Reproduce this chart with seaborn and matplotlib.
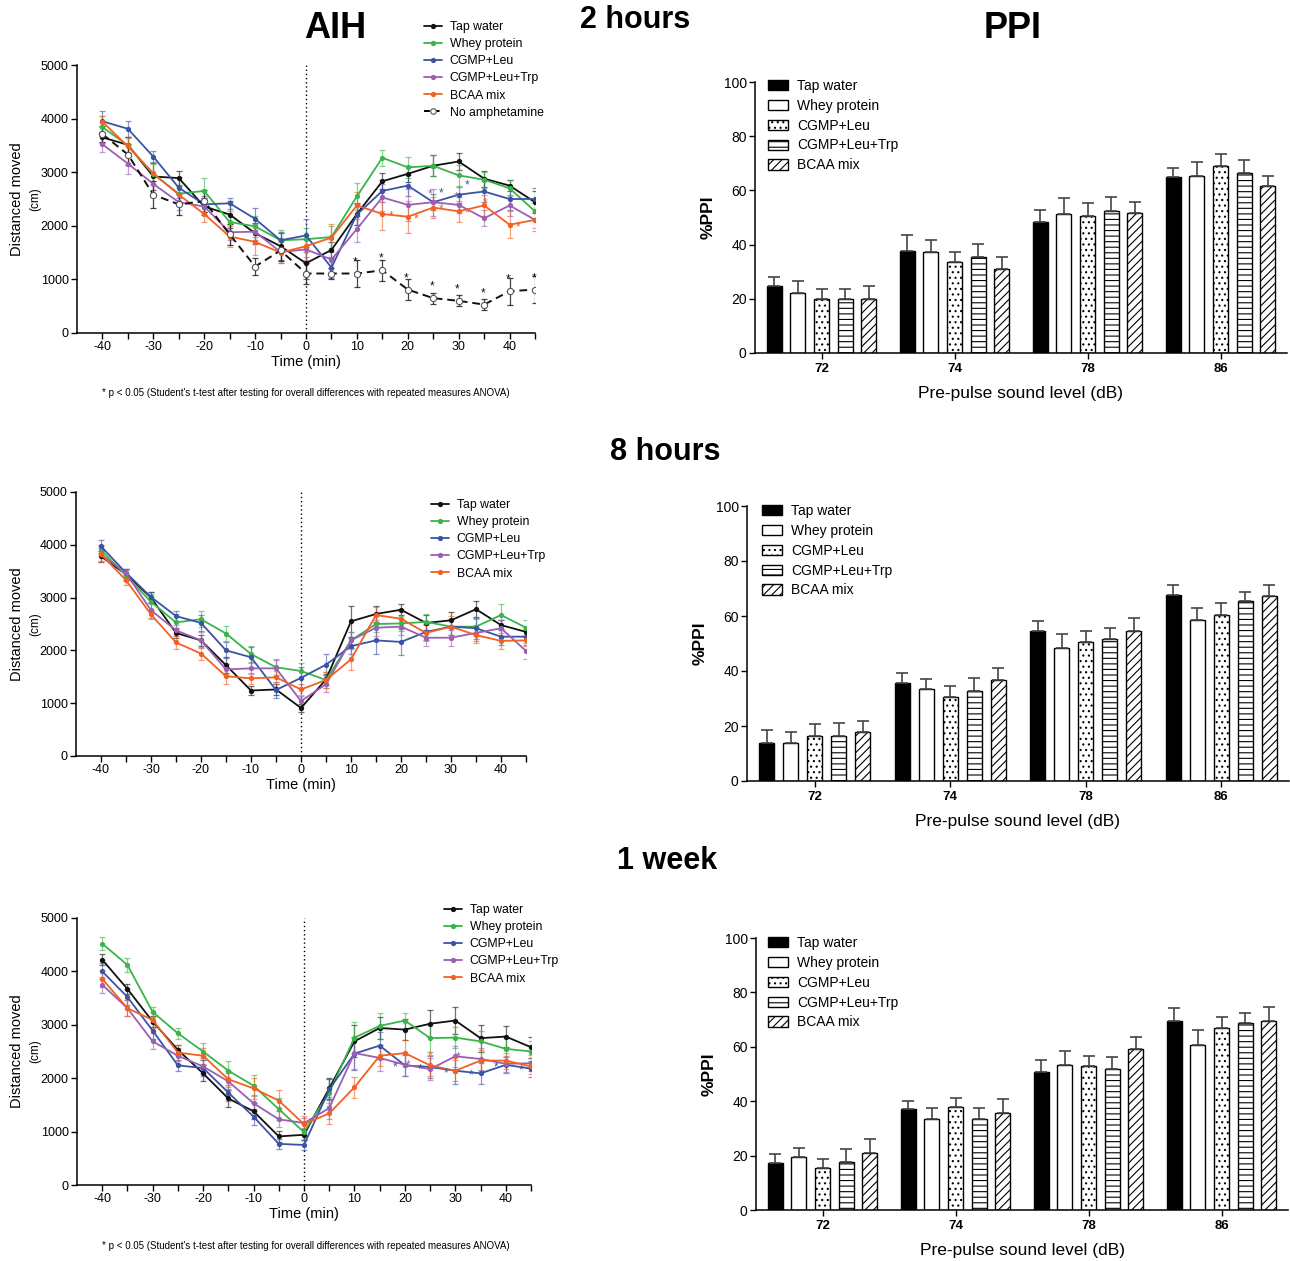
import numpy as np
import pandas as pd
import matplotlib
matplotlib.use("Agg")
import matplotlib.pyplot as plt
import matplotlib.patches as mpatches
from matplotlib.lines import Line2D
import seaborn as sns

sns.set_theme(style="ticks")
plt.rcParams['font.family'] = ['Liberation Sans', 'DejaVu Sans']
plt.rcParams['hatch.linewidth'] = 0.8
plt.rcParams['axes.linewidth'] = 1.1
for key in ['text.color', 'axes.labelcolor', 'xtick.color', 'ytick.color', 'axes.edgecolor']:
    plt.rcParams[key] = 'black'

# ---------------- data ----------------
TIMES = [-40, -35, -30, -25, -20, -15, -10, -5, 0, 5, 10, 15, 20, 25, 30, 35, 40, 45]
GROUPS = ["Tap water", "Whey protein", "CGMP+Leu", "CGMP+Leu+Trp", "BCAA mix"]
NOAMPH = "No amphetamine"

# 2 hours AIH (cm)
tap_2h = [3650, 3510, 2920, 2890, 2360, 2210, 1860, 1620, 1300, 1550, 2220, 2830, 2970, 3120, 3200, 2880, 2750, 2440]
whey_2h = [3840, 3500, 2960, 2600, 2650, 2070, 1990, 1730, 1750, 1790, 2550, 3270, 3090, 3120, 2940, 2860, 2700, 2270]
leu_2h = [3950, 3810, 3290, 2710, 2400, 2420, 2130, 1730, 1820, 1220, 2210, 2650, 2750, 2440, 2580, 2640, 2500, 2500]
trp_2h = [3520, 3160, 2780, 2440, 2360, 1880, 1890, 1510, 1560, 1370, 1940, 2530, 2390, 2440, 2390, 2140, 2380, 2110]
bcaa_2h = [3940, 3480, 2980, 2580, 2220, 1800, 1700, 1500, 1620, 1780, 2380, 2220, 2170, 2340, 2270, 2380, 2020, 2110]
noamph_2h = [3710, 3330, 2580, 2400, 2460, 1840, 1240, 1540, 1110, 1110, 1110, 1170, 810, 650, 600, 530, 780, 810]
err_tap_2h = [100, 150, 250, 130, 150, 250, 200, 250, 300, 150, 200, 150, 150, 200, 150, 150, 100, 200]
err_whey_2h = [200, 150, 200, 150, 250, 200, 200, 200, 200, 200, 250, 150, 200, 200, 200, 150, 150, 150]
err_leu_2h = [200, 150, 100, 200, 150, 100, 200, 150, 300, 200, 200, 200, 200, 150, 150, 200, 200, 200]
err_trp_2h = [150, 200, 200, 150, 150, 150, 150, 200, 200, 150, 250, 250, 300, 250, 150, 150, 200, 200]
err_bcaa_2h = [100, 150, 200, 150, 150, 200, 250, 200, 200, 250, 250, 300, 300, 200, 200, 200, 250, 150]
err_noamph_2h = [150, 200, 250, 200, 200, 200, 150, 200, 200, 100, 250, 200, 200, 100, 100, 100, 250, 250]

# 8 hours AIH (cm)
tap_8h = [3780, 3440, 3000, 2330, 2190, 1720, 1240, 1260, 910, 1450, 2550, 2690, 2770, 2520, 2570, 2780, 2480, 2350]
whey_8h = [3900, 3420, 2920, 2530, 2590, 2320, 1930, 1680, 1610, 1440, 2190, 2500, 2510, 2540, 2450, 2450, 2670, 2430]
leu_8h = [3970, 3470, 3010, 2650, 2520, 2000, 1870, 1250, 1480, 1730, 2080, 2190, 2160, 2350, 2450, 2420, 2260, 2260]
trp_8h = [3820, 3460, 2760, 2380, 2190, 1640, 1660, 1660, 1040, 1360, 2190, 2430, 2450, 2240, 2240, 2330, 2420, 1990]
bcaa_8h = [3820, 3330, 2680, 2150, 1940, 1510, 1470, 1490, 1260, 1440, 1830, 2670, 2600, 2330, 2450, 2290, 2180, 2190]
err_tap_8h = [100, 100, 100, 100, 100, 150, 80, 100, 80, 100, 300, 150, 100, 150, 150, 150, 100, 100]
err_whey_8h = [100, 100, 150, 150, 150, 150, 150, 150, 150, 150, 150, 150, 150, 150, 150, 150, 200, 150]
err_leu_8h = [120, 80, 100, 100, 150, 150, 200, 150, 200, 200, 150, 250, 250, 150, 150, 200, 150, 150]
err_trp_8h = [120, 80, 150, 100, 150, 100, 100, 150, 100, 150, 150, 150, 150, 150, 150, 150, 150, 150]
err_bcaa_8h = [150, 100, 80, 120, 120, 150, 100, 120, 100, 150, 200, 150, 150, 150, 200, 150, 150, 100]

# 1 week AIH (cm)
tap_1w = [4220, 3670, 3060, 2530, 2090, 1620, 1380, 910, 940, 1810, 2690, 2940, 2910, 3020, 3080, 2750, 2780, 2580]
whey_1w = [4520, 4120, 3240, 2840, 2500, 2140, 1860, 1420, 990, 1730, 2760, 2980, 3080, 2750, 2760, 2690, 2550, 2500]
leu_1w = [4000, 3520, 2890, 2240, 2190, 1730, 1280, 770, 750, 1790, 2460, 2610, 2240, 2210, 2140, 2090, 2250, 2180]
trp_1w = [3750, 3310, 2690, 2420, 2220, 1940, 1530, 1230, 1160, 1440, 2470, 2380, 2250, 2170, 2410, 2360, 2270, 2280]
bcaa_1w = [3860, 3310, 3090, 2480, 2420, 1980, 1810, 1580, 1140, 1340, 1830, 2420, 2470, 2240, 2140, 2330, 2330, 2220]
err_tap_1w = [100, 100, 100, 100, 150, 150, 150, 100, 100, 200, 300, 200, 200, 250, 250, 250, 200, 200]
err_whey_1w = [120, 130, 100, 100, 150, 180, 200, 200, 150, 250, 300, 250, 150, 250, 200, 200, 200, 200]
err_leu_1w = [150, 150, 150, 100, 150, 150, 150, 100, 100, 200, 300, 250, 200, 200, 250, 200, 150, 150]
err_trp_1w = [150, 150, 150, 150, 150, 150, 150, 150, 100, 200, 300, 250, 200, 200, 200, 200, 150, 150]
err_bcaa_1w = [150, 150, 150, 150, 150, 150, 200, 200, 150, 200, 200, 200, 250, 200, 200, 200, 150, 150]

# PPI (%)
LEVELS = ["72", "74", "78", "86"]
ppi_tap_2h = [24.8, 37.8, 48.3, 64.8]
ppi_whey_2h = [22.1, 37.2, 51.3, 65.3]
ppi_leu_2h = [19.9, 33.5, 50.6, 69.1]
ppi_trp_2h = [19.9, 35.3, 52.3, 66.6]
ppi_bcaa_2h = [20.1, 30.9, 51.8, 61.7]
perr_tap_2h = [3.4, 5.9, 4.3, 3.3]
perr_whey_2h = [4.6, 4.4, 5.8, 5.0]
perr_leu_2h = [3.7, 3.7, 4.6, 4.4]
perr_trp_2h = [3.7, 4.9, 5.4, 4.7]
perr_bcaa_2h = [4.8, 4.6, 4.0, 3.7]

ppi_tap_8h = [13.7, 35.5, 54.6, 67.8]
ppi_whey_8h = [13.7, 33.3, 48.4, 58.4]
ppi_leu_8h = [16.5, 30.6, 50.5, 60.5]
ppi_trp_8h = [16.5, 32.6, 51.6, 65.3]
ppi_bcaa_8h = [17.7, 36.9, 54.5, 67.4]
perr_tap_8h = [4.8, 3.6, 3.5, 3.4]
perr_whey_8h = [4.2, 3.9, 5.1, 4.6]
perr_leu_8h = [4.2, 4.0, 4.1, 4.3]
perr_trp_8h = [4.7, 4.9, 4.1, 3.6]
perr_bcaa_8h = [4.2, 4.3, 4.8, 3.9]

ppi_tap_1w = [17.2, 37.1, 50.6, 69.4]
ppi_whey_1w = [19.6, 33.6, 53.4, 60.5]
ppi_leu_1w = [15.3, 37.9, 52.9, 66.9]
ppi_trp_1w = [17.5, 33.4, 52.0, 68.6]
ppi_bcaa_1w = [20.9, 35.7, 59.3, 69.4]
perr_tap_1w = [3.3, 2.9, 4.6, 4.7]
perr_whey_1w = [3.3, 3.8, 5.0, 5.8]
perr_leu_1w = [3.6, 3.4, 3.7, 4.0]
perr_trp_1w = [5.1, 4.0, 4.2, 3.8]
perr_bcaa_1w = [5.2, 5.0, 4.3, 5.2]

# significance markers: (time, series, dx_pt, dy_pt)
stars_2h = ([(t, NOAMPH, -1, 4) for t in [10, 15, 20, 25, 30, 35, 40, 45]] +
            [(25, "CGMP+Leu", 6, 2), (30, "CGMP+Leu", 6, 2),
             (25, "CGMP+Leu+Trp", -2, 1), (30, "CGMP+Leu+Trp", -2, 1),
             (15, "BCAA mix", 6, -6), (20, "BCAA mix", 6, -6), (25, "BCAA mix", 6, -6),
             (30, "BCAA mix", 6, -6), (35, "BCAA mix", 1, -3), (40, "BCAA mix", 6, -6)])
stars_1w = ([(t, "CGMP+Leu", -7, -6) for t in [20, 25, 30, 35, 40, 45]] +
            [(20, "CGMP+Leu+Trp", 2, -5), (25, "CGMP+Leu+Trp", 2, -5), (30, "CGMP+Leu+Trp", 2, -5),
             (25, "BCAA mix", 0, 2), (30, "BCAA mix", 0, 3)])

# ---------------- styling ----------------
LINE_COLORS = {"Tap water": "#111111", "Whey protein": "#39b54a", "CGMP+Leu": "#3a54a5",
               "CGMP+Leu+Trp": "#9b5fb4", "BCAA mix": "#f26122", NOAMPH: "#111111"}
BAR_FILL = {"Tap water": "black", "Whey protein": "white", "CGMP+Leu": "white",
            "CGMP+Leu+Trp": "white", "BCAA mix": "white"}
BAR_HATCH = {"Tap water": None, "Whey protein": None, "CGMP+Leu": "...",
             "CGMP+Leu+Trp": "---", "BCAA mix": "////"}

W, H = 1290, 1261
fig = plt.figure(figsize=(W / 100, H / 100), dpi=100)


def fig_rect(left, top, right, bottom):
    return [left / W, 1 - bottom / H, (right - left) / W, (bottom - top) / H]


def line_panel(rect, series, errs, stars, legend_xy, include_noamph):
    ax = fig.add_axes(rect)
    for name, vals in series.items():
        c = LINE_COLORS[name]
        e = errs[name]
        if name == NOAMPH:
            ax.errorbar(TIMES, vals, yerr=e, fmt='none', ecolor='#222222', elinewidth=0.9,
                        capsize=2, capthick=0.9, alpha=0.85, zorder=2)
            sns.lineplot(x=TIMES, y=vals, ax=ax, color=c, linestyle=(0, (4, 2.5)), linewidth=1.4,
                         marker='o', markersize=4.5, markerfacecolor='white',
                         markeredgecolor='#555555', markeredgewidth=0.8, errorbar=None, zorder=3)
        else:
            ax.errorbar(TIMES, vals, yerr=e, fmt='none', ecolor=c, elinewidth=0.9,
                        capsize=2, capthick=0.9, alpha=0.6, zorder=2)
            sns.lineplot(x=TIMES, y=vals, ax=ax, color=c, linewidth=1.3, marker='o',
                         markersize=3.8, markeredgewidth=0, errorbar=None, zorder=3)
    for (t, name, dx, dy) in stars:
        v = series[name][TIMES.index(t)]
        ax.annotate("*", (t, v), xytext=(dx, dy), textcoords='offset points',
                    ha='center', va='bottom', fontsize=8.5, color=LINE_COLORS[name], zorder=4)
    ax.axvline(0, color='black', linestyle=(0, (1, 2)), linewidth=1.0, zorder=1)
    ax.set_xlim(-45, 45)
    ax.set_ylim(0, 5000)
    ax.set_yticks([0, 1000, 2000, 3000, 4000, 5000])
    ax.set_xticks(list(range(-40, 50, 5)))
    ax.set_xticklabels([str(t) if t % 10 == 0 else "" for t in range(-40, 50, 5)])
    ax.tick_params(labelsize=9, length=4, width=1.0, pad=2)
    ax.set_xlabel("Time (min)", fontsize=10.5, labelpad=1)
    ax.set_ylabel("")
    sns.despine(ax=ax)
    # y label with separate "(cm)" line
    yc = rect[1] + rect[3] / 2
    fig.text(17 / W, yc, "Distanced moved", rotation=90, ha='center', va='center', fontsize=10.5)
    fig.text(35 / W, yc, "(cm)", rotation=90, ha='center', va='center', fontsize=8.5)
    names = GROUPS + ([NOAMPH] if include_noamph else [])
    handles = []
    for name in names:
        if name == NOAMPH:
            handles.append(Line2D([], [], color='black', linestyle=(0, (3, 2)), linewidth=1.4,
                                  marker='o', markersize=4, markerfacecolor='white',
                                  markeredgecolor='#555555', markeredgewidth=0.8))
        else:
            handles.append(Line2D([], [], color=LINE_COLORS[name], linewidth=1.3, marker='o',
                                  markersize=3.8, markeredgewidth=0))
    ax.legend(handles, names, loc='upper left', bbox_to_anchor=legend_xy,
              bbox_transform=fig.transFigure, frameon=False, fontsize=8.8,
              borderpad=0, borderaxespad=0, handlelength=1.5, handletextpad=0.6,
              labelspacing=0.42)
    return ax


def bar_panel(rect, vals, errs, legend_xy):
    ax = fig.add_axes(rect)
    rows = []
    for g in GROUPS:
        for lvl, v in zip(LEVELS, vals[g]):
            rows.append({"level": lvl, "group": g, "value": v})
    df = pd.DataFrame(rows)
    sns.barplot(data=df, x="level", y="value", hue="group", order=LEVELS, hue_order=GROUPS,
                palette=[BAR_FILL[g] for g in GROUPS], saturation=1, edgecolor='black',
                linewidth=1.0, width=0.885, gap=0.36, errorbar=None, legend=False, ax=ax)
    for g, cont in zip(GROUPS, ax.containers):
        for p, e in zip(cont.patches, errs[g]):
            if BAR_HATCH[g]:
                p.set_hatch(BAR_HATCH[g])
            xc = p.get_x() + p.get_width() / 2
            ax.errorbar([xc], [p.get_height()], yerr=[[0], [e]], fmt='none', ecolor='#444444',
                        elinewidth=1.2, capsize=4, capthick=1.2, zorder=1)
    ax.set_xlim(-0.5, 3.5)
    ax.set_ylim(0, 100)
    ax.set_yticks([0, 20, 40, 60, 80, 100])
    ax.tick_params(axis='y', labelsize=10, length=4, width=1.0, pad=2)
    ax.tick_params(axis='x', labelsize=9.5, length=4, width=1.0, pad=3)
    for lab in ax.get_xticklabels():
        lab.set_fontweight('bold')
    ax.set_xlabel("Pre-pulse sound level (dB)", fontsize=12.5, labelpad=8)
    ax.set_ylabel("%PPI", fontsize=12.5, fontweight='bold', labelpad=6)
    sns.despine(ax=ax)
    handles = [mpatches.Patch(facecolor=BAR_FILL[g], edgecolor='black', hatch=BAR_HATCH[g],
                              linewidth=1.0) for g in GROUPS]
    ax.legend(handles, GROUPS, loc='upper left', bbox_to_anchor=legend_xy,
              bbox_transform=fig.transFigure, frameon=False, fontsize=10,
              borderpad=0, borderaxespad=0, handlelength=1.45, handleheight=0.75,
              handletextpad=0.65, labelspacing=0.42)
    return ax


# ---------------- panels ----------------
line_panel(fig_rect(77, 65, 535, 333),
           {"Tap water": tap_2h, "Whey protein": whey_2h, "CGMP+Leu": leu_2h,
            "CGMP+Leu+Trp": trp_2h, "BCAA mix": bcaa_2h, NOAMPH: noamph_2h},
           {"Tap water": err_tap_2h, "Whey protein": err_whey_2h, "CGMP+Leu": err_leu_2h,
            "CGMP+Leu+Trp": err_trp_2h, "BCAA mix": err_bcaa_2h, NOAMPH: err_noamph_2h},
           stars_2h, (424 / W, 1 - 21 / H), True)

line_panel(fig_rect(76, 492, 526, 756),
           {"Tap water": tap_8h, "Whey protein": whey_8h, "CGMP+Leu": leu_8h,
            "CGMP+Leu+Trp": trp_8h, "BCAA mix": bcaa_8h},
           {"Tap water": err_tap_8h, "Whey protein": err_whey_8h, "CGMP+Leu": err_leu_8h,
            "CGMP+Leu+Trp": err_trp_8h, "BCAA mix": err_bcaa_8h},
           [], (431 / W, 1 - 499 / H), False)

line_panel(fig_rect(77, 918, 531, 1185),
           {"Tap water": tap_1w, "Whey protein": whey_1w, "CGMP+Leu": leu_1w,
            "CGMP+Leu+Trp": trp_1w, "BCAA mix": bcaa_1w},
           {"Tap water": err_tap_1w, "Whey protein": err_whey_1w, "CGMP+Leu": err_leu_1w,
            "CGMP+Leu+Trp": err_trp_1w, "BCAA mix": err_bcaa_1w},
           stars_1w, (444 / W, 1 - 904 / H), False)

bar_panel(fig_rect(755, 82, 1287, 353),
          {"Tap water": ppi_tap_2h, "Whey protein": ppi_whey_2h, "CGMP+Leu": ppi_leu_2h,
           "CGMP+Leu+Trp": ppi_trp_2h, "BCAA mix": ppi_bcaa_2h},
          {"Tap water": perr_tap_2h, "Whey protein": perr_whey_2h, "CGMP+Leu": perr_leu_2h,
           "CGMP+Leu+Trp": perr_trp_2h, "BCAA mix": perr_bcaa_2h},
          (768 / W, 1 - 79 / H))

bar_panel(fig_rect(747, 506, 1289, 781),
          {"Tap water": ppi_tap_8h, "Whey protein": ppi_whey_8h, "CGMP+Leu": ppi_leu_8h,
           "CGMP+Leu+Trp": ppi_trp_8h, "BCAA mix": ppi_bcaa_8h},
          {"Tap water": perr_tap_8h, "Whey protein": perr_whey_8h, "CGMP+Leu": perr_leu_8h,
           "CGMP+Leu+Trp": perr_trp_8h, "BCAA mix": perr_bcaa_8h},
          (762 / W, 1 - 504 / H))

bar_panel(fig_rect(756, 938, 1288, 1210),
          {"Tap water": ppi_tap_1w, "Whey protein": ppi_whey_1w, "CGMP+Leu": ppi_leu_1w,
           "CGMP+Leu+Trp": ppi_trp_1w, "BCAA mix": ppi_bcaa_1w},
          {"Tap water": perr_tap_1w, "Whey protein": perr_whey_1w, "CGMP+Leu": perr_leu_1w,
           "CGMP+Leu+Trp": perr_trp_1w, "BCAA mix": perr_bcaa_1w},
          (768 / W, 1 - 936 / H))

# ---------------- titles and notes ----------------
fig.text(335 / W, 1 - 28 / H, "AIH", ha='center', va='center', fontsize=26, fontweight='bold')
fig.text(1013 / W, 1 - 28 / H, "PPI", ha='center', va='center', fontsize=26, fontweight='bold')
fig.text(635 / W, 1 - 20 / H, "2 hours", ha='center', va='center', fontsize=22, fontweight='bold')
fig.text(665 / W, 1 - 452 / H, "8 hours", ha='center', va='center', fontsize=22, fontweight='bold')
fig.text(667 / W, 1 - 861 / H, "1 week", ha='center', va='center', fontsize=22, fontweight='bold')
note = "* p < 0.05 (Student's t-test after testing for overall differences with repeated measures ANOVA)"
fig.text(306 / W, 1 - 393 / H, note, ha='center', va='center', fontsize=7)
fig.text(306 / W, 1 - 1246 / H, note, ha='center', va='center', fontsize=7)

fig.savefig("out.png", dpi=100)
